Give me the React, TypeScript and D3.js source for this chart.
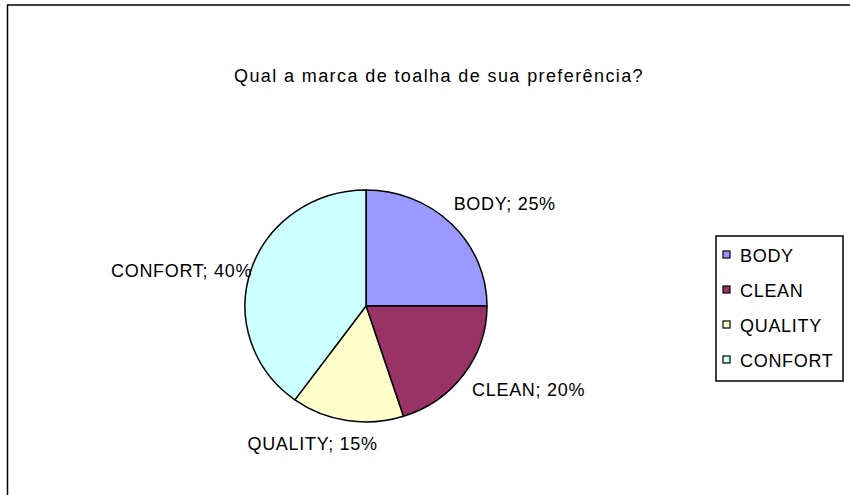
import React from "react";
import * as d3 from "d3";

const title = "Qual a marca de toalha de sua preferência?";
const categories = ["BODY", "CLEAN", "QUALITY", "CONFORT"];
const values = [25, 20, 15, 40];
const colors = ["#9999FF", "#993366", "#FFFFCC", "#CCFFFF"];
// layout nudges for data labels (pixels), not data
const labelNudges: [number, number][] = [
  [15, 23],
  [21, -9],
  [-26, -22],
  [-18, 23],
];

const W = 850;
const H = 495;
const cx = 366;
const cy = 306;
const rx = 121;
const ry = 116;
const ky = ry / rx;
const FONT = "'Liberation Sans', Arial, sans-serif";
const FS = 18;

export default function App() {
  const total = d3.sum(values);
  const pie = d3
    .pie<number>()
    .sort(null)
    .value((d) => d)
    .startAngle(0)
    .endAngle(2 * Math.PI);
  const arcs = pie(values);
  const arc = d3.arc<d3.PieArcDatum<number>>().innerRadius(0).outerRadius(rx);
  const legendY = d3.scalePoint<string>().domain(categories).range([255, 360]);
  const Rl = 175;

  return (
    <svg
      width={W}
      height={H}
      style={{ position: "absolute", left: 0, top: 0, background: "#fff" }}
      fontFamily={FONT}
    >
      <rect x={7.5} y={5} width={870} height={520} fill="#fff" stroke="#000" strokeWidth={1.5} />
      <text x={439} y={82} textAnchor="middle" fontSize={FS} letterSpacing={1.4} fill="#000">
        {title}
      </text>
      <g transform={`translate(${cx},${cy}) scale(1,${ky})`}>
        {arcs.map((a, i) => (
          <path
            key={i}
            d={arc(a) || ""}
            fill={colors[i]}
            stroke="#000"
            strokeWidth={1.5}
            vectorEffect="non-scaling-stroke"
          />
        ))}
      </g>
      {arcs.map((a, i) => {
        const mid = (a.startAngle + a.endAngle) / 2;
        const x = cx + Rl * Math.sin(mid) + labelNudges[i][0];
        const y = cy - Rl * Math.cos(mid) * ky + labelNudges[i][1];
        const pct = Math.round((values[i] / total) * 100);
        return (
          <text key={i} x={x} y={y} textAnchor="middle" fontSize={FS} letterSpacing={0.7} fill="#000">
            {`${categories[i]}; ${pct}%`}
          </text>
        );
      })}
      <rect x={716} y={236} width={127} height={145} fill="#fff" stroke="#000" strokeWidth={1.5} />
      {categories.map((c, i) => {
        const y = legendY(c) as number;
        return (
          <g key={c}>
            <rect x={723} y={y - 4} width={7} height={7} fill={colors[i]} stroke="#000" strokeWidth={1.2} />
            <text x={740} y={y + 6.5} fontSize={FS} letterSpacing={0.7} fill="#000">
              {c}
            </text>
          </g>
        );
      })}
    </svg>
  );
}
